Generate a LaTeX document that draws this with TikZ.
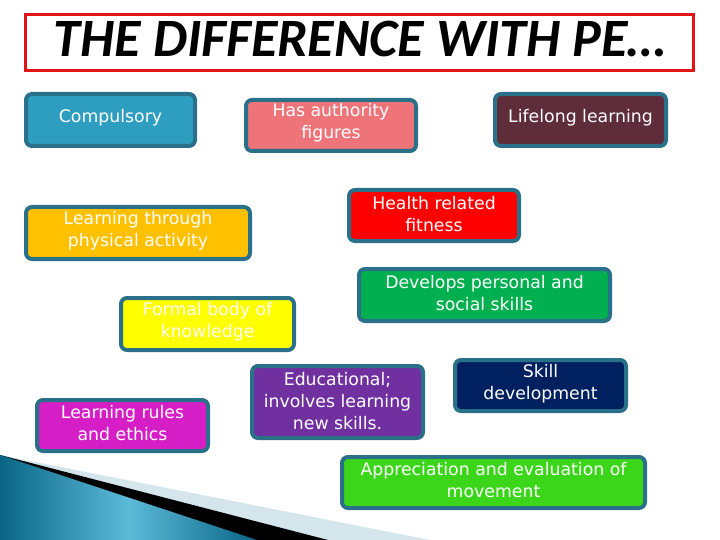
\documentclass[tikz,border=0pt]{standalone}
\usepackage{fontspec}
\setmainfont{DejaVu Sans}
\newfontfamily\titlefont{Carlito}
\definecolor{edgeteal}{HTML}{2A7088}
\definecolor{titlered}{HTML}{E01414}
\definecolor{cComp}{HTML}{2E9EC0}
\definecolor{cAuth}{HTML}{EE7479}
\definecolor{cLife}{HTML}{5F2C3A}
\definecolor{cLtpa}{HTML}{FFC000}
\definecolor{cHealth}{HTML}{FF0000}
\definecolor{cDev}{HTML}{00B050}
\definecolor{cFormal}{HTML}{FFFF00}
\definecolor{cRules}{HTML}{D61EC6}
\definecolor{cEdu}{HTML}{7030A0}
\definecolor{cSkill}{HTML}{002060}
\definecolor{cAppr}{HTML}{3BD61A}
\definecolor{darkblue}{HTML}{0A6585}
\definecolor{lightblue}{HTML}{5CBAD9}
\definecolor{paleband}{HTML}{D4E5EC}
\tikzset{
  box/.style={draw=edgeteal, line width=4pt, rounded corners=6pt, inner sep=0pt},
  lbl/.style={text=white, align=center, inner sep=0pt, font=\fontsize{17.3}{22}\selectfont},
}
\begin{document}
\begin{tikzpicture}[x=1pt,y=-1pt]
\useasboundingbox (0,0) rectangle (720,540);
% decoration
\fill[paleband] (0,455) -- (430,540) -- (0,540) -- cycle;
\fill[black] (0,455) -- (328,540) -- (0,540) -- cycle;
\shade[left color=darkblue, right color=darkblue, middle color=lightblue] (0,455) -- (257,540) -- (0,540) -- cycle;
% title
\node[draw=titlered, line width=3.5pt, minimum width=668pt, minimum height=56pt, inner sep=0pt] (title) at (359.5,42.5) {};
\node[font=\titlefont\bfseries\itshape\fontsize{54}{54}\selectfont, inner sep=0pt] (titletext) at (360,39) {THE DIFFERENCE WITH PE…};
% boxes
\node[box, fill=cComp, minimum width=169pt, minimum height=52pt] (comp) at (110.5,120) {};
\node[lbl] (compt) at ([yshift=2pt]comp.center) {Compulsory};
\node[box, fill=cAuth, minimum width=170pt, minimum height=51pt] (auth) at (331,125.5) {};
\node[lbl] (autht) at ([yshift=3pt]auth.center) {Has authority\\figures};
\node[box, fill=cLife, minimum width=171pt, minimum height=52pt] (life) at (580.5,120) {};
\node[lbl] (lifet) at ([yshift=2pt]life.center) {Lifelong learning};
\node[box, fill=cLtpa, minimum width=224pt, minimum height=52pt] (ltpa) at (138,233) {};
\node[lbl] (ltpat) at ([yshift=2pt]ltpa.center) {Learning through\\physical activity};
\node[box, fill=cHealth, minimum width=170pt, minimum height=51pt] (health) at (434,215.5) {};
\node[lbl] (healtht) at ([yshift=1.5pt]health.center) {Health related\\fitness};
\node[box, fill=cDev, minimum width=251pt, minimum height=52pt] (dev) at (484.5,295) {};
\node[lbl] (devt) at ([yshift=2pt]dev.center) {Develops personal and\\social skills};
\node[box, fill=cFormal, minimum width=173pt, minimum height=52pt] (formal) at (207.5,324) {};
\node[lbl] (formalt) at ([yshift=2.5pt]formal.center) {Formal body of\\knowledge};
\node[box, fill=cRules, minimum width=171pt, minimum height=51pt] (rules) at (122.5,425.5) {};
\node[lbl] (rulest) at ([yshift=2pt]rules.center) {Learning rules\\and ethics};
\node[box, fill=cEdu, minimum width=171pt, minimum height=72pt] (edu) at (337.5,402) {};
\node[lbl] (edut) at ([yshift=1pt]edu.center) {Educational;\\involves learning\\new skills.};
\node[box, fill=cSkill, minimum width=171pt, minimum height=51pt] (skill) at (540.5,385.5) {};
\node[lbl] (skillt) at ([yshift=1.5pt]skill.center) {Skill\\development};
\node[box, fill=cAppr, minimum width=303pt, minimum height=51pt] (appr) at (493.5,482.5) {};
\node[lbl] (apprt) at ([yshift=2pt]appr.center) {Appreciation and evaluation of\\movement};
\end{tikzpicture}
\end{document}
